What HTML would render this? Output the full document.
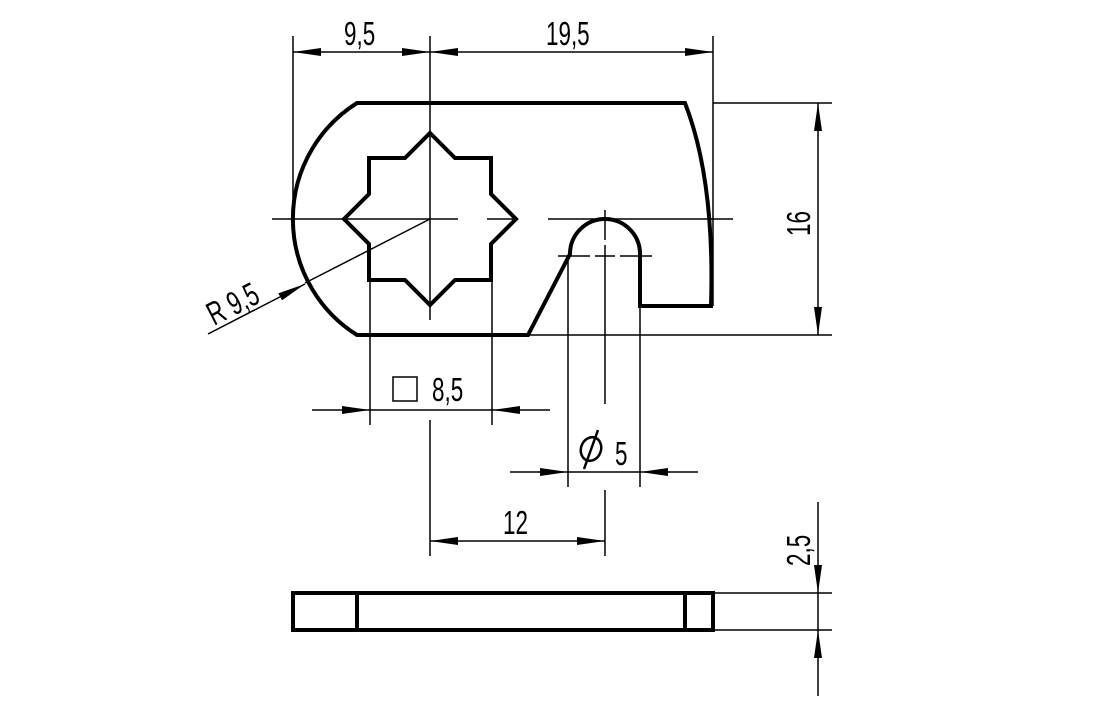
<!DOCTYPE html>
<html><head><meta charset="utf-8"><style>
html,body{margin:0;padding:0;background:#fff}
svg text{font-family:"Liberation Sans",sans-serif;font-size:33px;fill:#000}
</style></head><body>
<svg width="1095" height="696" viewBox="0 0 1095 696" xmlns="http://www.w3.org/2000/svg">
<defs>
<marker id="a" markerWidth="28" markerHeight="8" refX="28" refY="4" orient="auto" markerUnits="userSpaceOnUse"><path d="M0,0 L28,4 L0,8 Z" fill="#000"/></marker>
</defs>
<g fill="none" stroke="#000" stroke-width="4" stroke-linejoin="miter">
<path d="M357,103 L685,103 Q715,180 711,306 L640,306 L640,254 A35,35 0 0 0 570,254 L528,335 L357,335 A137,137 0 0 1 357,103 Z"/>
<polygon points="430,133 455,158 491,158 491,194 516,219 491,244 491,280 455,280 430,305 405,280 369,280 369,244 344,219 369,194 369,158 405,158"/>
<rect x="293" y="593" width="420" height="37"/>
<line x1="357" y1="593" x2="357" y2="630"/>
<line x1="685" y1="593" x2="685" y2="630"/>
</g>
<g fill="none" stroke="#000" stroke-width="1.5">
<line x1="272" y1="219" x2="458" y2="219"/>
<line x1="487" y1="219" x2="513" y2="219"/>
<line x1="548" y1="219" x2="733" y2="219"/>
<line x1="430" y1="36" x2="430" y2="320"/>
<line x1="430" y1="420" x2="430" y2="556"/>
<line x1="605" y1="210" x2="605" y2="240"/>
<line x1="605" y1="245" x2="605" y2="404"/>
<line x1="605" y1="490" x2="605" y2="556"/>
<line x1="558" y1="256" x2="590" y2="256"/>
<line x1="595" y1="256" x2="615" y2="256"/>
<line x1="620" y1="256" x2="652" y2="256"/>
<line x1="293" y1="36" x2="293" y2="215"/>
<line x1="713" y1="36" x2="713" y2="306"/>
<line x1="713" y1="103" x2="832" y2="103"/>
<line x1="528" y1="335" x2="832" y2="335"/>
<line x1="370" y1="281" x2="370" y2="425"/>
<line x1="492" y1="281" x2="492" y2="425"/>
<line x1="568" y1="256" x2="568" y2="487"/>
<line x1="640" y1="256" x2="640" y2="487"/>
<line x1="713" y1="593" x2="832" y2="593"/>
<line x1="713" y1="630" x2="832" y2="630"/>
<line x1="362" y1="52" x2="293" y2="52" marker-end="url(#a)"/>
<line x1="362" y1="52" x2="430" y2="52" marker-end="url(#a)"/>
<line x1="570" y1="52" x2="430" y2="52" marker-end="url(#a)"/>
<line x1="570" y1="52" x2="713" y2="52" marker-end="url(#a)"/>
<line x1="818" y1="220" x2="818" y2="103" marker-end="url(#a)"/>
<line x1="818" y1="220" x2="818" y2="335" marker-end="url(#a)"/>
<line x1="312" y1="410" x2="370" y2="410" marker-end="url(#a)"/>
<line x1="550" y1="410" x2="492" y2="410" marker-end="url(#a)"/>
<line x1="370" y1="410" x2="492" y2="410"/>
<line x1="510" y1="472" x2="568" y2="472" marker-end="url(#a)"/>
<line x1="698" y1="472" x2="640" y2="472" marker-end="url(#a)"/>
<line x1="568" y1="472" x2="640" y2="472"/>
<line x1="518" y1="541" x2="430" y2="541" marker-end="url(#a)"/>
<line x1="518" y1="541" x2="605" y2="541" marker-end="url(#a)"/>
<line x1="818" y1="502" x2="818" y2="593" marker-end="url(#a)"/>
<line x1="818" y1="696" x2="818" y2="630" marker-end="url(#a)"/>
<line x1="818" y1="593" x2="818" y2="630"/>
<line x1="430" y1="219" x2="305" y2="283"/>
<line x1="208" y1="334" x2="305" y2="284" marker-end="url(#a)"/>
<rect x="393" y="377" width="24" height="24"/>
<ellipse cx="591" cy="449" rx="10" ry="12" transform="rotate(20 591 449)" stroke-width="2.5"/>
<line x1="598" y1="430" x2="584" y2="469" stroke-width="2.5"/>
</g>
<g>
<text transform="translate(344 45) scale(0.68 1)">9,5</text>
<text transform="translate(546 45) scale(0.68 1)">19,5</text>
<text transform="translate(432 401) scale(0.68 1)">8,5</text>
<text transform="translate(615 465) scale(0.68 1)">5</text>
<text transform="translate(503 534) scale(0.68 1)">12</text>
<text transform="translate(810 236) rotate(-90) scale(0.68 1)">16</text>
<text transform="translate(810 566) rotate(-90) scale(0.68 1)">2,5</text>
<text transform="translate(214 326) rotate(-27) scale(0.68 1)">R 9,5</text>
</g>
</svg>
</body></html>
